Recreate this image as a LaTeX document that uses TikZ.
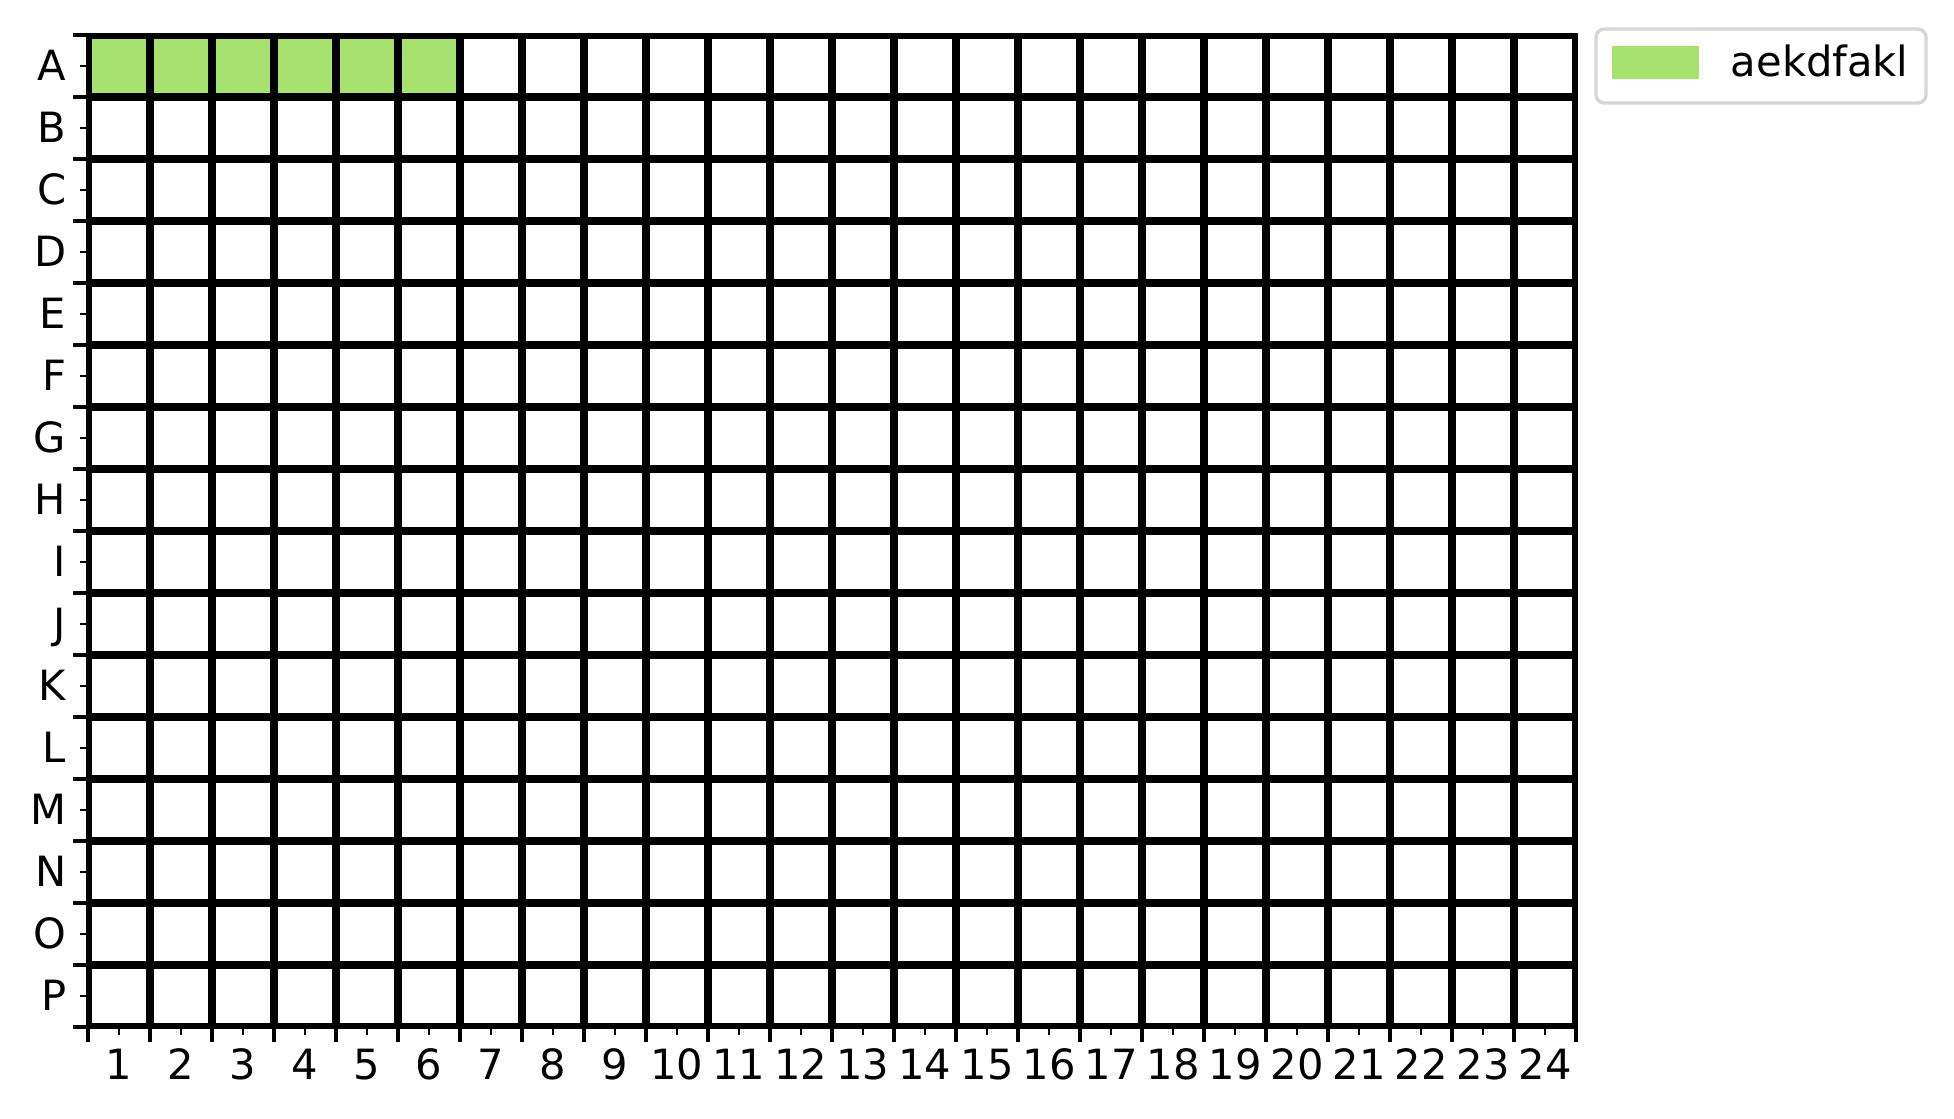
\documentclass[tikz,border=0pt]{standalone}
\usepackage{fontspec}
\setmainfont{DejaVu Sans}
\definecolor{cellgreen}{RGB}{168,226,110}
\definecolor{legedge}{RGB}{214,214,214}
\tikzset{
  gridline/.style={black, line width=1.92pt},
  spine/.style={black, line width=0.8pt},
  majortick/.style={black, line width=0.8pt},
  minortick/.style={black, line width=0.6pt},
  ticklabel/.style={inner sep=0pt, font=\fontsize{10pt}{12pt}\selectfont},
  legendframe/.style={draw=legedge, line width=0.8pt, fill=white, rounded corners=2pt}
}
\begin{document}
\begin{tikzpicture}[x=0.24pt, y=-0.24pt]
\useasboundingbox (0,0) rectangle (1954,1119);
\fill[white] (0,0) rectangle (1954,1119);
% filled cells
\fill[cellgreen] (88,35) rectangle (460,97);
% grid lines, clipped to the axes box
\begin{scope}
  \clip (88,35) rectangle (1576,1027);
  \foreach \i in {0,...,24} \draw[gridline] ({88+62*\i},35) -- ({88+62*\i},1027);
  \foreach \j in {0,...,16} \draw[gridline] (88,{35+62*\j}) -- (1576,{35+62*\j});
\end{scope}
\draw[spine] (88,35) rectangle (1576,1027);
% x ticks
\foreach \i in {0,...,24} \draw[majortick] ({88+62*\i},1027) -- ({88+62*\i},1041.6);
\foreach \i in {1,...,24} {
  \draw[minortick] ({57+62*\i},1027) -- ({57+62*\i},1035.3);
  \node[ticklabel, anchor=base] (x\i) at ({57+62*\i},1080) {\i};
}
% y ticks
\foreach \j in {0,...,16} \draw[majortick] (88,{35+62*\j}) -- (73.4,{35+62*\j});
\foreach \r [count=\k] in {A,B,C,D,E,F,G,H,I,J,K,L,M,N,O,P} {
  \draw[minortick] (88,{4+62*\k}) -- (79.7,{4+62*\k});
  \node[ticklabel, anchor=base east] (y\r) at (67,{19+62*\k}) {\r};
}
% legend
\draw[legendframe] (1596,29) rectangle (1926,103);
\fill[cellgreen] (1612,46) rectangle (1699,79);
\node[ticklabel, anchor=base west] (leg) at (1730,77) {aekdfakl};
\end{tikzpicture}
\end{document}
